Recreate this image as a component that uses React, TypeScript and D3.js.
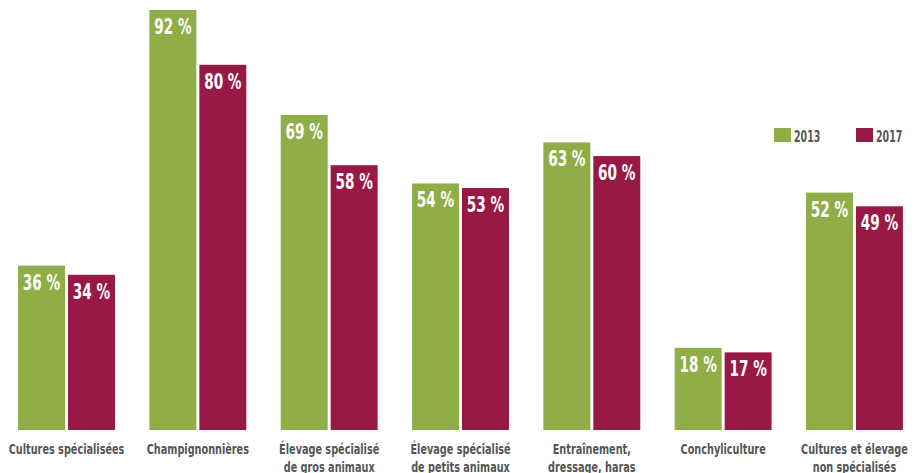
import React from "react";
import * as d3 from "d3";

const categories: string[][] = [
  ["Cultures spécialisées"],
  ["Champignonnières"],
  ["Élevage spécialisé", "de gros animaux"],
  ["Élevage spécialisé", "de petits animaux"],
  ["Entraînement,", "dressage, haras"],
  ["Conchyliculture"],
  ["Cultures et élevage", "non spécialisés"],
];
const seriesNames = ["2013", "2017"];
const values2013 = [36, 92, 69, 54, 63, 18, 52];
const values2017 = [34, 80, 58, 53, 60, 17, 49];
const colors = ["#8fae47", "#981946"];

const W = 919;
const H = 473;
const FONT = "'DejaVu Sans Condensed', 'DejaVu Sans', sans-serif";

function CText(props: {
  x: number;
  y: number;
  sx: number;
  size: number;
  fill: string;
  anchor?: string;
  children: React.ReactNode;
}) {
  return (
    <text
      transform={`translate(${props.x},${props.y}) scale(${props.sx},1)`}
      textAnchor={props.anchor ?? "middle"}
      fill={props.fill}
      fontWeight="bold"
      fontSize={props.size}
    >
      {props.children}
    </text>
  );
}

export default function App() {
  const x = d3
    .scaleBand<number>()
    .domain(d3.range(categories.length))
    .range([1, 920])
    .paddingInner(0.262)
    .paddingOuter(0.13);
  const xi = d3
    .scaleBand<string>()
    .domain(seriesNames)
    .range([0, x.bandwidth()])
    .paddingInner(0.06);
  const y = d3.scaleLinear().domain([0, 92]).range([430, 10]);
  const series = [values2013, values2017];

  return (
    <svg
      width={W}
      height={H}
      style={{ position: "absolute", left: 0, top: 0, background: "#fff" }}
      fontFamily={FONT}
    >
      {categories.map((lines, i) => {
        const gx = x(i)!;
        return (
          <g key={i}>
            {series.map((vals, s) => {
              const bx = gx + xi(seriesNames[s])!;
              const v = vals[i];
              return (
                <g key={s}>
                  <rect
                    x={bx}
                    y={y(v)}
                    width={xi.bandwidth()}
                    height={y(0) - y(v)}
                    fill={colors[s]}
                  />
                  <CText
                    x={bx + xi.bandwidth() / 2}
                    y={y(v) + 24}
                    sx={0.74}
                    size={20.5}
                    fill="#fff"
                  >
                    {`${v} %`}
                  </CText>
                </g>
              );
            })}
            {lines.map((ln, k) => (
              <CText
                key={k}
                x={gx + x.bandwidth() / 2}
                y={454 + k * 18}
                sx={0.77}
                size={14}
                fill="#555"
              >
                {ln}
              </CText>
            ))}
          </g>
        );
      })}
      {seriesNames.map((name, s) => (
        <g key={name} transform={`translate(${774 + s * 82},128)`}>
          <rect x={0} y={0} width={17} height={14} fill={colors[s]} />
          <CText x={20} y={14.3} sx={0.7} size={15} fill="#555" anchor="start">
            {name}
          </CText>
        </g>
      ))}
    </svg>
  );
}
